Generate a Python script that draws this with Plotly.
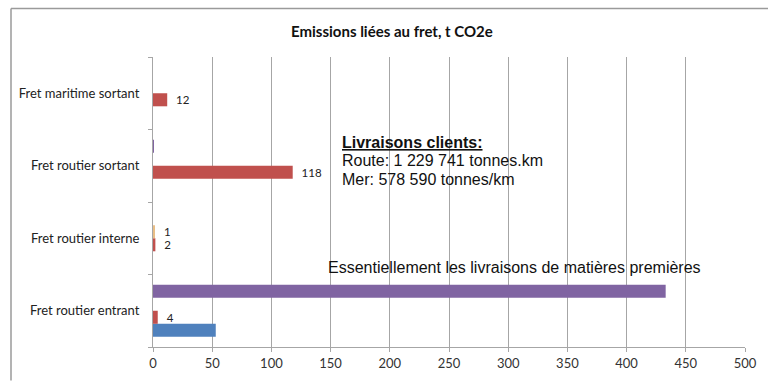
import plotly.graph_objects as go

categories = ["Fret routier entrant", "Fret routier interne", "Fret routier sortant", "Fret maritime sortant"]
series_blue = [53, 0, 0, 0]
series_red = [4, 2, 118, 12]
series_tan = [0, 1, 0, 0]
series_purple = [433, 0, 0.4, 0]
red_labels = ["4", "2", "118", "12"]
tan_labels = ["", "1", "", ""]
x_ticks = [0, 50, 100, 150, 200, 250, 300, 350, 400, 450, 500]

title_text = "Emissions liées au fret, t CO2e"
note_clients = ["<b><u>Livraisons clients:</u></b>", "Route: 1 229 741 tonnes.km", "Mer: 578 590 tonnes/km"]
note_clients_y = [143, 161, 180]
note_mp = "Essentiellement les livraisons de matières premières"

lab_font = dict(family="Lato, Open Sans, sans-serif", size=11.5, color="#222222")

fig = go.Figure()
fig.add_trace(go.Bar(y=categories, x=series_blue, orientation="h",
                     marker=dict(color="#4F81BD", line=dict(width=0))))
fig.add_trace(go.Bar(y=categories, x=series_red, orientation="h",
                     marker=dict(color="#C0504D", line=dict(width=0)),
                     text=["  " + t for t in red_labels], textposition="outside",
                     constraintext="none", textfont=lab_font, cliponaxis=False))
fig.add_trace(go.Bar(y=categories, x=series_tan, orientation="h",
                     marker=dict(color="#E9BE86", line=dict(width=0)),
                     text=["  " + t if t else "" for t in tan_labels], textposition="outside",
                     constraintext="none", textfont=lab_font, cliponaxis=False))
fig.add_trace(go.Bar(y=categories, x=series_purple, orientation="h",
                     marker=dict(color="#8064A2", line=dict(width=0))))

PL, PR, PT, PB = 153, 745, 57.5, 347.5
def px(x):
    return (x - PL) / (PR - PL)
def py(y):
    return (PB - y) / (PB - PT)

annotations = [
    dict(text=title_text, xref="paper", yref="paper", x=px(392), y=py(31),
         xanchor="center", yanchor="middle", showarrow=False,
         font=dict(family="Lato, Open Sans, sans-serif", size=15, color="#111111", weight="bold")),
    dict(text=note_mp, xref="paper", yref="paper",
         x=px(326), y=py(268), xanchor="left", yanchor="middle", showarrow=False,
         font=dict(family="Liberation Sans, Arial, sans-serif", size=16, color="#111111")),
]
for line, yy in zip(note_clients, note_clients_y):
    annotations.append(dict(text=line, xref="paper", yref="paper", x=px(340), y=py(yy),
                            xanchor="left", yanchor="middle", showarrow=False,
                            font=dict(family="Liberation Sans, Arial, sans-serif", size=16, color="#111111")))

fig.update_layout(
    width=768, height=381,
    margin=dict(l=153, r=23, t=57, b=34, autoexpand=False),
    paper_bgcolor="white", plot_bgcolor="white",
    barmode="group", bargap=0.28, bargroupgap=0,
    showlegend=False,
    xaxis=dict(range=[0, 500], tickvals=x_ticks, ticktext=[str(v) for v in x_ticks],
               showgrid=True, gridcolor="#A6A6A6", gridwidth=1,
               showline=True, linecolor="#A6A6A6", linewidth=1,
               ticks="outside", ticklen=4, tickcolor="#A6A6A6",
               tickfont=dict(family="Lato, Open Sans, sans-serif", size=13, color="#333333"),
               zeroline=False, fixedrange=True),
    yaxis=dict(type="category", categoryorder="array", categoryarray=categories,
               showline=True, linecolor="#A6A6A6", linewidth=1,
               ticks="outside", ticklen=4, tickcolor="#A6A6A6", tickson="boundaries",
               tickfont=dict(family="Lato, Open Sans, sans-serif", size=13, color="#222222"),
               ticklabelstandoff=10, showgrid=False, fixedrange=True),
    annotations=annotations,
    shapes=[
        dict(type="line", xref="paper", yref="paper", x0=px(11), x1=px(768),
             y0=py(9), y1=py(9), line=dict(color="#9A9A9A", width=1.5)),
        dict(type="line", xref="paper", yref="paper", x0=px(11), x1=px(11),
             y0=py(9), y1=py(381), line=dict(color="#9A9A9A", width=1.5)),
    ],
)

fig.write_html("out.html", config={"displayModeBar": False},
               post_script="document.body.style.margin='0';document.body.style.overflow='hidden';")
